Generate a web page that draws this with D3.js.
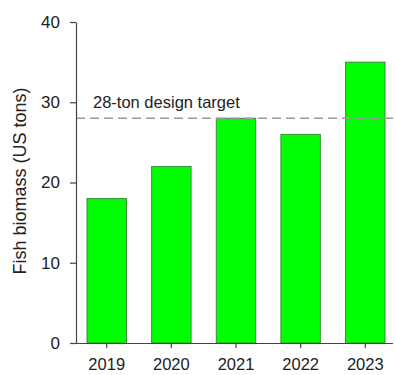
<!DOCTYPE html>
<html>
<head>
<meta charset="utf-8">
<script src="https://cdn.jsdelivr.net/npm/d3@7"></script>
<style>
  body { margin: 0; background: #fff; overflow: hidden; }
  svg { display: block; }
  svg text { font-family: "Liberation Sans", Arial, sans-serif; fill: #222; }
</style>
</head>
<body>
<svg width="395" height="375"></svg>
<script>
const years = ['2019', '2020', '2021', '2022', '2023'];
const biomass = [18, 22, 28, 26, 35];
const yTicks = [0, 10, 20, 30, 40];
const target = 28;
const targetLabel = '28-ton design target';
const yAxisLabel = 'Fish biomass (US tons)';

const svg = d3.select('svg');
const width = +svg.attr('width');
const height = +svg.attr('height');

const margin = { top: 22, right: 0, bottom: 32, left: 76 };
const innerWidth = width - margin.left - margin.right;
const innerHeight = height - margin.top - margin.bottom;

const data = years.map((y, i) => ({ year: y, value: biomass[i] }));

const xScale = d3.scaleBand()
  .domain(years)
  .range([0, 320])
  .paddingInner(0.39)
  .paddingOuter(0.17);

const yScale = d3.scaleLinear()
  .domain([0, 40])
  .range([innerHeight, 0]);

const g = svg.append('g')
  .attr('transform', `translate(${margin.left},${margin.top})`);

// bars
g.selectAll('rect').data(data)
  .enter().append('rect')
    .attr('x', d => xScale(d.year))
    .attr('y', d => yScale(d.value))
    .attr('width', xScale.bandwidth())
    .attr('height', d => innerHeight - yScale(d.value))
    .attr('fill', '#00ff00')
    .attr('stroke', '#3c8c3c')
    .attr('stroke-width', 1);

// target line
g.append('line')
  .attr('x1', 0)
  .attr('x2', innerWidth)
  .attr('y1', yScale(target))
  .attr('y2', yScale(target))
  .attr('stroke', '#999')
  .attr('stroke-width', 1.5)
  .attr('stroke-dasharray', '9,5');

g.append('text')
  .attr('x', 17)
  .attr('y', yScale(target) - 10.5)
  .style('font-size', '16.5px')
  .text(targetLabel);

// axes
const yAxis = d3.axisLeft(yScale)
  .tickValues(yTicks)
  .tickSize(6)
  .tickPadding(10)
  .tickSizeOuter(0);

const yAxisG = g.append('g').call(yAxis);
yAxisG.selectAll('text').style('font-size', '17px');

const xAxis = d3.axisBottom(xScale)
  .tickSize(5)
  .tickPadding(10)
  .tickSizeOuter(0);

const xAxisG = g.append('g').call(xAxis)
  .attr('transform', `translate(0,${innerHeight})`);
xAxisG.select('.domain').attr('d', `M-6,0.5H${innerWidth - 2}`);
xAxisG.selectAll('text').style('font-size', '16.5px');

g.selectAll('.domain, .tick line').attr('stroke', '#444').attr('stroke-width', 1.2);

g.append('text')
  .attr('transform', 'rotate(-90)')
  .attr('x', -(181 - margin.top))
  .attr('y', 26 - margin.left)
  .attr('text-anchor', 'middle')
  .style('font-size', '18px')
  .text(yAxisLabel);
</script>
</body>
</html>
